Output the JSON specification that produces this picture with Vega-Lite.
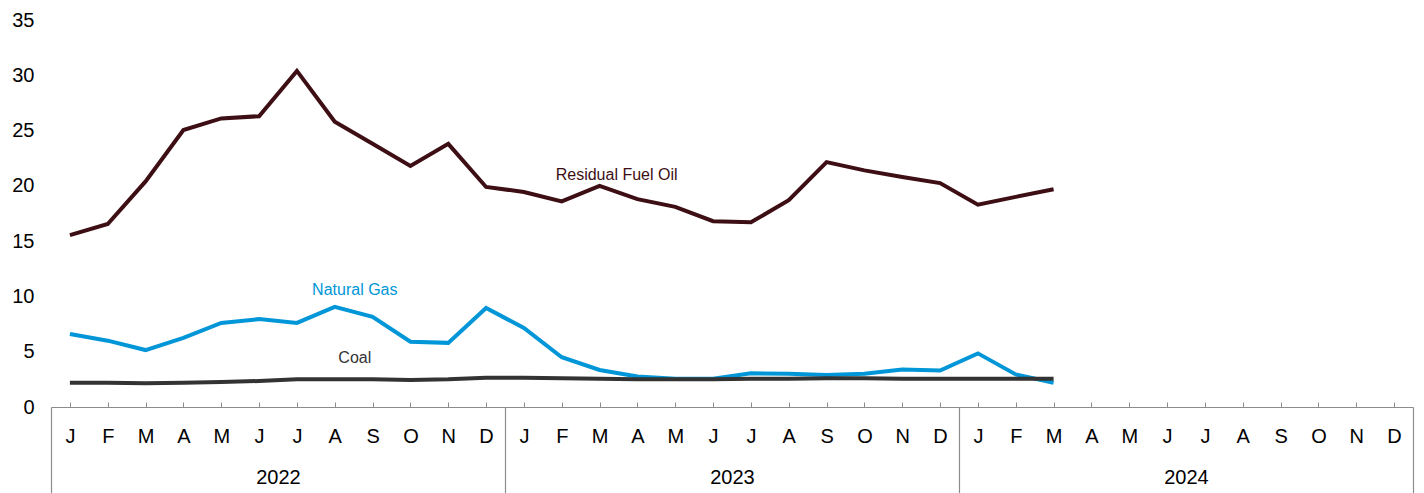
{
  "$schema": "https://vega.github.io/schema/vega-lite/v6.json",
  "width": 1362,
  "height": 387,
  "autosize": {"type": "none"},
  "padding": {"left": 51, "top": 20, "right": 11, "bottom": 86},
  "config": {"view": {"stroke": null}, "font": "Liberation Sans", "text": {"font": "Liberation Sans"}},
  "datasets": {
    "prices": [
      {"m": 0, "series": "Residual Fuel Oil", "value": 15.55},
      {"m": 1, "series": "Residual Fuel Oil", "value": 16.55},
      {"m": 2, "series": "Residual Fuel Oil", "value": 20.4},
      {"m": 3, "series": "Residual Fuel Oil", "value": 25.05},
      {"m": 4, "series": "Residual Fuel Oil", "value": 26.1},
      {"m": 5, "series": "Residual Fuel Oil", "value": 26.3},
      {"m": 6, "series": "Residual Fuel Oil", "value": 30.4},
      {"m": 7, "series": "Residual Fuel Oil", "value": 25.8},
      {"m": 8, "series": "Residual Fuel Oil", "value": 23.8},
      {"m": 9, "series": "Residual Fuel Oil", "value": 21.8},
      {"m": 10, "series": "Residual Fuel Oil", "value": 23.8},
      {"m": 11, "series": "Residual Fuel Oil", "value": 19.9},
      {"m": 12, "series": "Residual Fuel Oil", "value": 19.45},
      {"m": 13, "series": "Residual Fuel Oil", "value": 18.6},
      {"m": 14, "series": "Residual Fuel Oil", "value": 20.0},
      {"m": 15, "series": "Residual Fuel Oil", "value": 18.8},
      {"m": 16, "series": "Residual Fuel Oil", "value": 18.1},
      {"m": 17, "series": "Residual Fuel Oil", "value": 16.8},
      {"m": 18, "series": "Residual Fuel Oil", "value": 16.7},
      {"m": 19, "series": "Residual Fuel Oil", "value": 18.7},
      {"m": 20, "series": "Residual Fuel Oil", "value": 22.15},
      {"m": 21, "series": "Residual Fuel Oil", "value": 21.4},
      {"m": 22, "series": "Residual Fuel Oil", "value": 20.8},
      {"m": 23, "series": "Residual Fuel Oil", "value": 20.25},
      {"m": 24, "series": "Residual Fuel Oil", "value": 18.3},
      {"m": 25, "series": "Residual Fuel Oil", "value": 19.0},
      {"m": 26, "series": "Residual Fuel Oil", "value": 19.7},
      {"m": 0, "series": "Natural Gas", "value": 6.6},
      {"m": 1, "series": "Natural Gas", "value": 6.0},
      {"m": 2, "series": "Natural Gas", "value": 5.15},
      {"m": 3, "series": "Natural Gas", "value": 6.25},
      {"m": 4, "series": "Natural Gas", "value": 7.6},
      {"m": 5, "series": "Natural Gas", "value": 7.95},
      {"m": 6, "series": "Natural Gas", "value": 7.6},
      {"m": 7, "series": "Natural Gas", "value": 9.05},
      {"m": 8, "series": "Natural Gas", "value": 8.15},
      {"m": 9, "series": "Natural Gas", "value": 5.9},
      {"m": 10, "series": "Natural Gas", "value": 5.8},
      {"m": 11, "series": "Natural Gas", "value": 8.95},
      {"m": 12, "series": "Natural Gas", "value": 7.15},
      {"m": 13, "series": "Natural Gas", "value": 4.5},
      {"m": 14, "series": "Natural Gas", "value": 3.35},
      {"m": 15, "series": "Natural Gas", "value": 2.75},
      {"m": 16, "series": "Natural Gas", "value": 2.55},
      {"m": 17, "series": "Natural Gas", "value": 2.55},
      {"m": 18, "series": "Natural Gas", "value": 3.05},
      {"m": 19, "series": "Natural Gas", "value": 3.0},
      {"m": 20, "series": "Natural Gas", "value": 2.9},
      {"m": 21, "series": "Natural Gas", "value": 3.0},
      {"m": 22, "series": "Natural Gas", "value": 3.4},
      {"m": 23, "series": "Natural Gas", "value": 3.3},
      {"m": 24, "series": "Natural Gas", "value": 4.85},
      {"m": 25, "series": "Natural Gas", "value": 2.95},
      {"m": 26, "series": "Natural Gas", "value": 2.2},
      {"m": 0, "series": "Coal", "value": 2.2},
      {"m": 1, "series": "Coal", "value": 2.2},
      {"m": 2, "series": "Coal", "value": 2.15},
      {"m": 3, "series": "Coal", "value": 2.2},
      {"m": 4, "series": "Coal", "value": 2.25},
      {"m": 5, "series": "Coal", "value": 2.35},
      {"m": 6, "series": "Coal", "value": 2.5},
      {"m": 7, "series": "Coal", "value": 2.5},
      {"m": 8, "series": "Coal", "value": 2.5},
      {"m": 9, "series": "Coal", "value": 2.45},
      {"m": 10, "series": "Coal", "value": 2.5},
      {"m": 11, "series": "Coal", "value": 2.65},
      {"m": 12, "series": "Coal", "value": 2.65},
      {"m": 13, "series": "Coal", "value": 2.6},
      {"m": 14, "series": "Coal", "value": 2.55},
      {"m": 15, "series": "Coal", "value": 2.5},
      {"m": 16, "series": "Coal", "value": 2.5},
      {"m": 17, "series": "Coal", "value": 2.5},
      {"m": 18, "series": "Coal", "value": 2.55},
      {"m": 19, "series": "Coal", "value": 2.55},
      {"m": 20, "series": "Coal", "value": 2.6},
      {"m": 21, "series": "Coal", "value": 2.6},
      {"m": 22, "series": "Coal", "value": 2.55},
      {"m": 23, "series": "Coal", "value": 2.55},
      {"m": 24, "series": "Coal", "value": 2.55},
      {"m": 25, "series": "Coal", "value": 2.55},
      {"m": 26, "series": "Coal", "value": 2.55}
    ],
    "labels": [
      {"label": "Residual Fuel Oil", "m": 14.45, "value": 21.0},
      {"label": "Natural Gas", "m": 7.53, "value": 10.6},
      {"label": "Coal", "m": 7.53, "value": 4.45}
    ]
  },
  "layer": [
    {
      "data": {"name": "prices"},
      "mark": {"type": "line", "strokeWidth": 4},
      "encoding": {
        "x": {
          "field": "m", "type": "quantitative",
          "scale": {"domain": [-0.5, 35.5], "nice": false, "zero": false},
          "axis": {
            "orient": "bottom", "title": null, "grid": false,
            "values": [0,1,2,3,4,5,6,7,8,9,10,11,12,13,14,15,16,17,18,19,20,21,22,23,24,25,26,27,28,29,30,31,32,33,34,35],
            "labelExpr": "['J','F','M','A','M','J','J','A','S','O','N','D'][datum.value % 12]",
            "tickSize": -5, "labelPadding": 34, "labelBaseline": "middle",
            "domainColor": "#8c8c8c", "tickColor": "#8c8c8c", "domainWidth": 1.2,
            "labelFontSize": 20, "labelColor": "#000000",
            "labelFlush": false, "labelOverlap": false, "labelBound": false
          }
        },
        "y": {
          "field": "value", "type": "quantitative",
          "scale": {"domain": [0, 35], "nice": false},
          "axis": {
            "orient": "left", "title": null, "grid": false, "domain": false, "ticks": false,
            "values": [0, 5, 10, 15, 20, 25, 30, 35],
            "labelPadding": 17, "labelFontSize": 20, "labelColor": "#000000"
          }
        },
        "color": {
          "field": "series", "type": "nominal",
          "scale": {"domain": ["Residual Fuel Oil", "Natural Gas", "Coal"], "range": ["#3d0f14", "#0096d7", "#333333"]},
          "legend": null
        }
      }
    },
    {
      "data": {"name": "labels"},
      "mark": {"type": "text", "fontSize": 16, "align": "center", "baseline": "middle"},
      "encoding": {
        "x": {
          "field": "m", "type": "quantitative",
          "scale": {"domain": [-0.5, 35.5], "nice": false, "zero": false},
          "axis": {
            "orient": "bottom", "title": null, "grid": false, "domain": false,
            "values": [-0.5, 11.5, 23.5, 35.5],
            "labelExpr": "datum.value == -0.5 ? '2022' : datum.value == 11.5 ? '2023' : datum.value == 23.5 ? '2024' : ''",
            "tickSize": 86, "tickColor": "#8c8c8c", "tickWidth": 1.2,
            "labelOffset": 227, "labelPadding": -16, "labelBaseline": "middle",
            "labelFontSize": 20, "labelColor": "#000000",
            "labelFlush": false, "labelOverlap": false, "labelBound": false
          }
        },
        "y": {"field": "value", "type": "quantitative", "scale": {"domain": [0, 35], "nice": false}, "axis": null},
        "text": {"field": "label"},
        "color": {
          "field": "label", "type": "nominal",
          "scale": {"domain": ["Residual Fuel Oil", "Natural Gas", "Coal"], "range": ["#5a1a20", "#0096d7", "#333333"]},
          "legend": null
        }
      }
    }
  ],
  "resolve": {"axis": {"x": "independent", "y": "independent"}}
}
